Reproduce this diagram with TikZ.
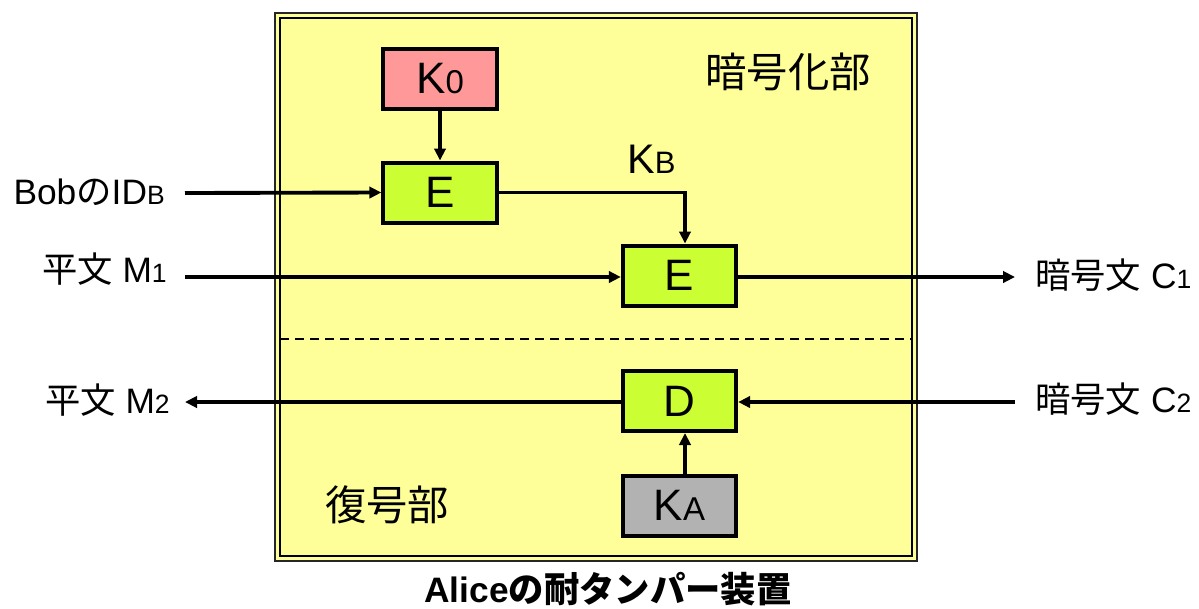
\documentclass[tikz,border=0pt]{standalone}
\usepackage{fontspec}
\usepackage{graphicx}
\setmainfont{Liberation Sans}
\newfontfamily\cjk{Noto Sans CJK JP}
\usetikzlibrary{arrows.meta}
\newcommand\lo[1]{\scalebox{0.75}{#1}}
\definecolor{bgyellow}{HTML}{FFFF99}
\definecolor{boxgreen}{HTML}{CCFF33}
\definecolor{boxpink}{HTML}{FF9999}
\definecolor{boxgray}{HTML}{B2B2B2}
\begin{document}
\begin{tikzpicture}[x=0.75pt,y=-0.75pt,
  blk/.style={draw=black,line width=3pt,minimum width=85pt,minimum height=45pt,inner sep=0pt,
    font=\fontsize{33}{40}\selectfont},
  lbl/.style={inner sep=0pt,font=\fontsize{26.5}{32}\selectfont},
  sec/.style={inner sep=0pt,font=\fontsize{31}{38}\selectfont\cjk},
  conn/.style={line width=2.9pt},
  arr/.style={conn,-{Triangle[length=9pt,width=8.5pt]}}]
\useasboundingbox (0,0) rectangle (1199,608);
% frame
\draw[line width=1.5pt,draw=black!85,fill=bgyellow] (275,13) rectangle (917,561);
\draw[line width=1.5pt] (280,18) rectangle (912,556);
\draw[line width=1.8pt,dash pattern=on 6.75pt off 4.5pt] (280,339) -- (912,339);
% blocks
\node[blk,fill=boxpink] (K0) at (440,79) {K\lo{0}};
\node[blk,fill=boxgreen] (E1) at (440,192.5) {E};
\node[blk,fill=boxgreen] (E2) at (679.5,275.5) {E};
\node[blk,fill=boxgreen] (D) at (679.5,401) {D};
\node[blk,fill=boxgray] (KA) at (679.5,505.5) {K\lo{A}};
% section labels
\node[sec] (enc) at (788,72) {暗号化部};
\node[sec] (dec) at (387,505) {復号部};
\node[lbl,anchor=base west,font=\fontsize{31}{38}\selectfont] (KB) at (627,173) {K\lo{B}};
% outside labels
\node[lbl,anchor=base east] (bob) at (165,204) {Bob{\cjk の}ID\lo{B}};
\node[lbl,anchor=base east] (M1) at (167,282) {{\cjk 平文} M\lo{1}};
\node[lbl,anchor=base east] (M2) at (170,413) {{\cjk 平文} M\lo{2}};
\node[lbl,anchor=base west] (C1) at (1035,288) {{\cjk 暗号文} C\lo{1}};
\node[lbl,anchor=base west] (C2) at (1035,412) {{\cjk 暗号文} C\lo{2}};
\node[inner sep=0pt,anchor=base,font=\fontsize{26.5}{32}\selectfont\bfseries] (cap) at (608,602) {Alice{\cjk の耐タンパー装置}};
% coordinates
\coordinate (bobR) at (185,193);
\coordinate (m1R) at (185,277);
\coordinate (m2R) at (185,402);
\coordinate (c1L) at (1015,277);
\coordinate (c2L) at (1015,402);
\coordinate (kbx) at (685,192.5);
% connectors
\draw[arr] (K0.south) -- (E1.north);
\draw[arr] (bobR) -- (E1.west);
\draw[arr] (E1.east) -- (kbx) -- (kbx |- E2.north);
\draw[arr] (m1R) -- (m1R -| E2.west);
\draw[arr] (E2.east |- c1L) -- (c1L);
\draw[arr] (c2L) -- (c2L -| D.east);
\draw[arr] (D.west |- m2R) -- (m2R);
\draw[arr] (KA.north -| kbx) -- (D.south -| kbx);
\end{tikzpicture}
\end{document}
